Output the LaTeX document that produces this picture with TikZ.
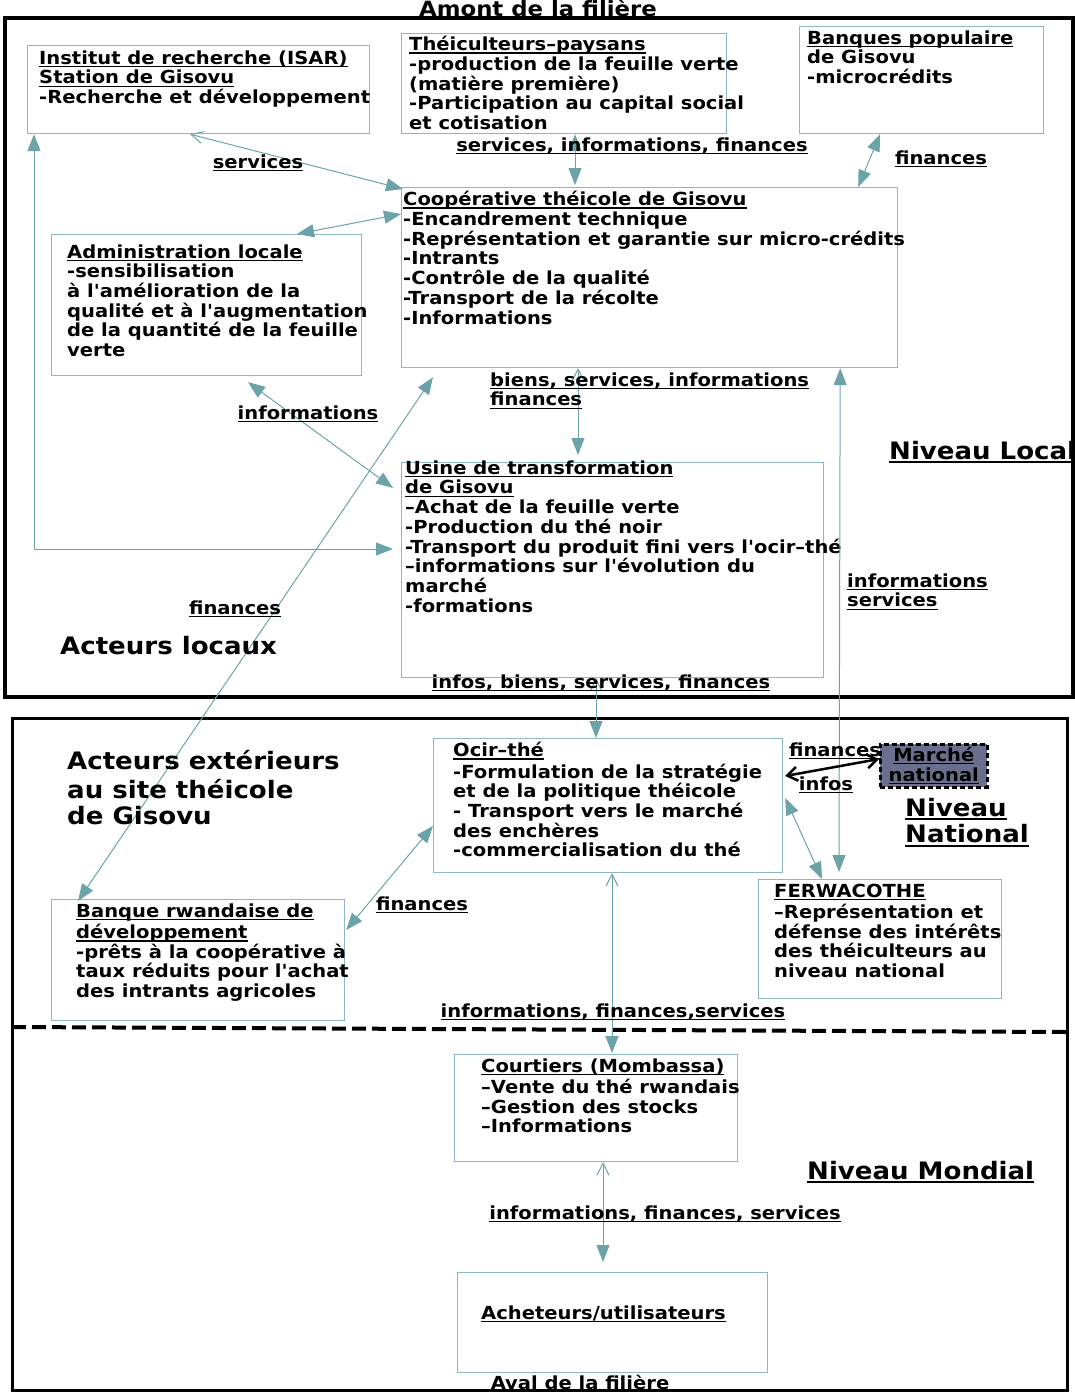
\documentclass[tikz,border=0pt]{standalone}
\usepackage{fontspec}
\newfontfamily\dejavu{DejaVu Sans}[FakeStretch=1.085]
\usetikzlibrary{arrows.meta}
\definecolor{boxc}{RGB}{140,185,190}
\definecolor{linec}{RGB}{108,163,168}
\definecolor{marchec}{RGB}{108,110,142}
\newcommand{\souligne}[1]{\setbox0\hbox{#1}\rlap{\rule[-0.17em]{\wd0}{0.08em}}\box0}

\begin{document}
\begin{tikzpicture}[
    x=1pt, y=-1pt,
    >={Triangle[length=17pt,width=13pt]},
    box/.style={draw=boxc, line width=1.2pt, rectangle, anchor=north west, inner sep=0pt},
    txt/.style={anchor=north west, inner sep=0pt, align=left,
        font=\dejavu\bfseries\fontsize{18}{19.7}\selectfont},
    lbl/.style={anchor=base, inner sep=0pt,
        font=\dejavu\bfseries\fontsize{18}{19.7}\selectfont},
    big/.style={anchor=north west, inner sep=0pt, align=left,
        font=\dejavu\bfseries\fontsize{24}{26.5}\selectfont},
    flow/.style={draw=linec, line width=1pt},
    barb/.style={{Straight Barb[length=12pt,width=12pt]}->},
    frame/.style={draw=black, line width=4pt},
]
\useasboundingbox (0,0) rectangle (1075,1393);

% Frames
\draw[frame] (5,18) rectangle (1073,697);
\draw[frame, line width=3pt] (12,718) rectangle (1067,1390);
\draw[line width=4pt, dash pattern=on 14pt off 6pt] (12,1027) -- (1067,1032);

% Boxes
\node[box, minimum width=342pt, minimum height=88pt] (isar) at (27,45) {};
\node[box, minimum width=325pt, minimum height=100pt] (theic) at (401,33) {};
\node[box, minimum width=244pt, minimum height=107pt] (banq) at (799,26) {};
\node[box, minimum width=496pt, minimum height=180pt] (coop) at (401,187) {};
\node[box, minimum width=310pt, minimum height=141pt] (admin) at (51,234) {};
\node[box, minimum width=422pt, minimum height=215pt] (usine) at (401,462) {};
\node[box, minimum width=349pt, minimum height=134pt] (ocir) at (433,738) {};
\node[box, minimum width=243pt, minimum height=119pt] (ferwa) at (758,879) {};
\node[box, minimum width=293pt, minimum height=121pt] (brd) at (51,899) {};
\node[box, minimum width=283pt, minimum height=107pt] (court) at (454,1054) {};
\node[box, minimum width=310pt, minimum height=100pt] (achet) at (457,1272) {};

% Marche national
\node[box, draw=black, line width=2.5pt, dash pattern=on 5pt off 3pt, fill=marchec,
    minimum width=107pt, minimum height=43pt, align=center,
    font=\dejavu\bfseries\fontsize{18}{20}\selectfont] (marche) at (879,743)
    {\souligne{Marché}\\\souligne{national}};

% Box texts
\node[txt] (isartxt) at (39,50.2) {\strut\souligne{Institut de recherche (ISAR)}\\\souligne{Station de Gisovu}\\-Recherche et développement};
\node[txt] (theictxt) at (409,36.2) {\strut\souligne{Théiculteurs–paysans}\\-production de la feuille verte\\(matière première)\\-Participation au capital social\\et cotisation};
\node[txt] (banqtxt) at (807,30.2) {\strut\souligne{Banques populaire}\\de Gisovu\\-microcrédits};
\node[txt] (cooptxt) at (403,191.2) {\strut\souligne{Coopérative théicole de Gisovu}\\-Encandrement technique\\-Représentation et garantie sur micro-crédits\\-Intrants\\-Contrôle de la qualité\\-Transport de la récolte\\-Informations};
\node[txt] (admintxt) at (67,244.2) {\strut\souligne{Administration locale}\\-sensibilisation\\à l'amélioration de la\\qualité et à l'augmentation\\de la quantité de la feuille\\verte};
\node[txt] (usinetxt) at (405,460.2) {\strut\souligne{Usine de transformation}\\\souligne{de Gisovu}\\–Achat de la feuille verte\\-Production du thé noir\\-Transport du produit fini vers l'ocir–thé\\–informations sur l'évolution du\\marché\\-formations};
\node[txt] (ocirtxt) at (453,742.2) {\strut\souligne{Ocir–thé}\\-Formulation de la stratégie\\et de la politique théicole\\- Transport vers le marché\\des enchères\\-commercialisation du thé};
\node[txt] (ferwatxt) at (774,883.2) {\strut\souligne{FERWACOTHE}\\–Représentation et\\défense des intérêts\\des théiculteurs au\\niveau national};
\node[txt] (brdtxt) at (76,903.2) {\strut\souligne{Banque rwandaise de}\\\souligne{développement}\\-prêts à la coopérative à\\taux réduits pour l'achat\\des intrants agricoles};
\node[txt] (courttxt) at (481,1058.2) {\strut\souligne{Courtiers (Mombassa)}\\–Vente du thé rwandais\\–Gestion des stocks\\–Informations};
\node[lbl, anchor=base west] (achettxt) at (481,1319) {\souligne{Acheteurs/utilisateurs}};

% Arrows
\draw[flow, barb] ([shift={(163,0)}]isar.south west) -- ([shift={(2,2)}]coop.north west);
\draw[flow, <->] ([shift={(174,0)}]theic.south west) -- ([shift={(174,-2)}]coop.north west);
\draw[flow, <->] ([shift={(81,0)}]banq.south west) -- ([shift={(-40,0)}]coop.north east);
\draw[flow, <->] ([shift={(246,0)}]admin.north west) -- ([shift={(0,27)}]coop.north west);
\draw[flow, <->] ([shift={(7,0)}]isar.south west) |- ([shift={(-8,87)}]usine.north west);
\draw[flow, <->] ([shift={(197,6)}]admin.south west) -- ([shift={(-8,26)}]usine.north west);
\draw[flow, <->] ([shift={(32,9)}]coop.south west) -- ([shift={(27,2)}]brd.north west);
\draw[flow, barb] ([shift={(177,0)}]coop.south west) -- ([shift={(177,-7)}]usine.north west);
\draw[flow, <->] ([shift={(-58,0)}]coop.south east) -- ([shift={(81,-7)}]ferwa.north west);
\draw[flow, barb] ([shift={(195,0)}]usine.south west) -- ([shift={(163,0)}]ocir.north west);
\draw[flow, <->] ([shift={(0,88)}]ocir.north west) -- ([shift={(1,31)}]brd.north east);
\draw[flow, <->] ([shift={(2,60)}]ocir.north east) -- ([shift={(64,0)}]ferwa.north west);
\draw[line width=2.5pt, {Straight Barb[length=10pt,width=14pt]}-{Straight Barb[length=10pt,width=14pt]}]
    ([shift={(2,38)}]ocir.north east) -- ([shift={(0,16)}]marche.north west);
\draw[flow, barb] ([shift={(179,0)}]ocir.south west) -- ([shift={(158,-1)}]court.north west);
\draw[flow, barb] ([shift={(149,0)}]court.south west) -- ([shift={(146,-10)}]achet.north west);

% Labels
\node[lbl, font=\dejavu\bfseries\fontsize{21}{24}\selectfont] (amont) at (538,16) {\souligne{Amont de la filière}};
\node[lbl] (l1) at (258,168) {\souligne{services}};
\node[lbl] (l2) at (632,151) {\souligne{services, informations, finances}};
\node[lbl] (l3) at (941,164) {\souligne{finances}};
\node[txt] (l4) at (490,372.2) {\strut\souligne{biens, services, informations}\\\souligne{finances}};
\node[lbl] (l5) at (308,419) {\souligne{informations}};
\node[lbl] (l6) at (235,614) {\souligne{finances}};
\node[txt] (l7) at (847,573.2) {\strut\souligne{informations}\\\souligne{services}};
\node[lbl] (l8) at (601,688) {\souligne{infos, biens, services, finances}};
\node[lbl] (l9) at (835,756) {\souligne{finances}};
\node[lbl] (l10) at (826,790) {\souligne{infos}};
\node[lbl] (l11) at (422,910) {\souligne{finances}};
\node[lbl] (l12) at (613,1017) {\souligne{informations, finances,services}};
\node[lbl] (l13) at (665,1219) {\souligne{informations, finances, services}};
\node[lbl] (aval) at (580,1389) {Aval de la filière};

% Level titles
\node[big, anchor=base west] (local) at (889,459) {\souligne{Niveau Local}};
\node[big, anchor=base west] (acloc) at (60,654) {Acteurs locaux};
\node[big] (acext) at (67,750.5) {\strut Acteurs extérieurs\\au site théicole\\de Gisovu};
\node[big] (national) at (905,797.5) {\strut\souligne{Niveau}\\\souligne{National}};
\node[big, anchor=base west] (mondial) at (807,1179) {\souligne{Niveau Mondial}};

\end{tikzpicture}
\end{document}
